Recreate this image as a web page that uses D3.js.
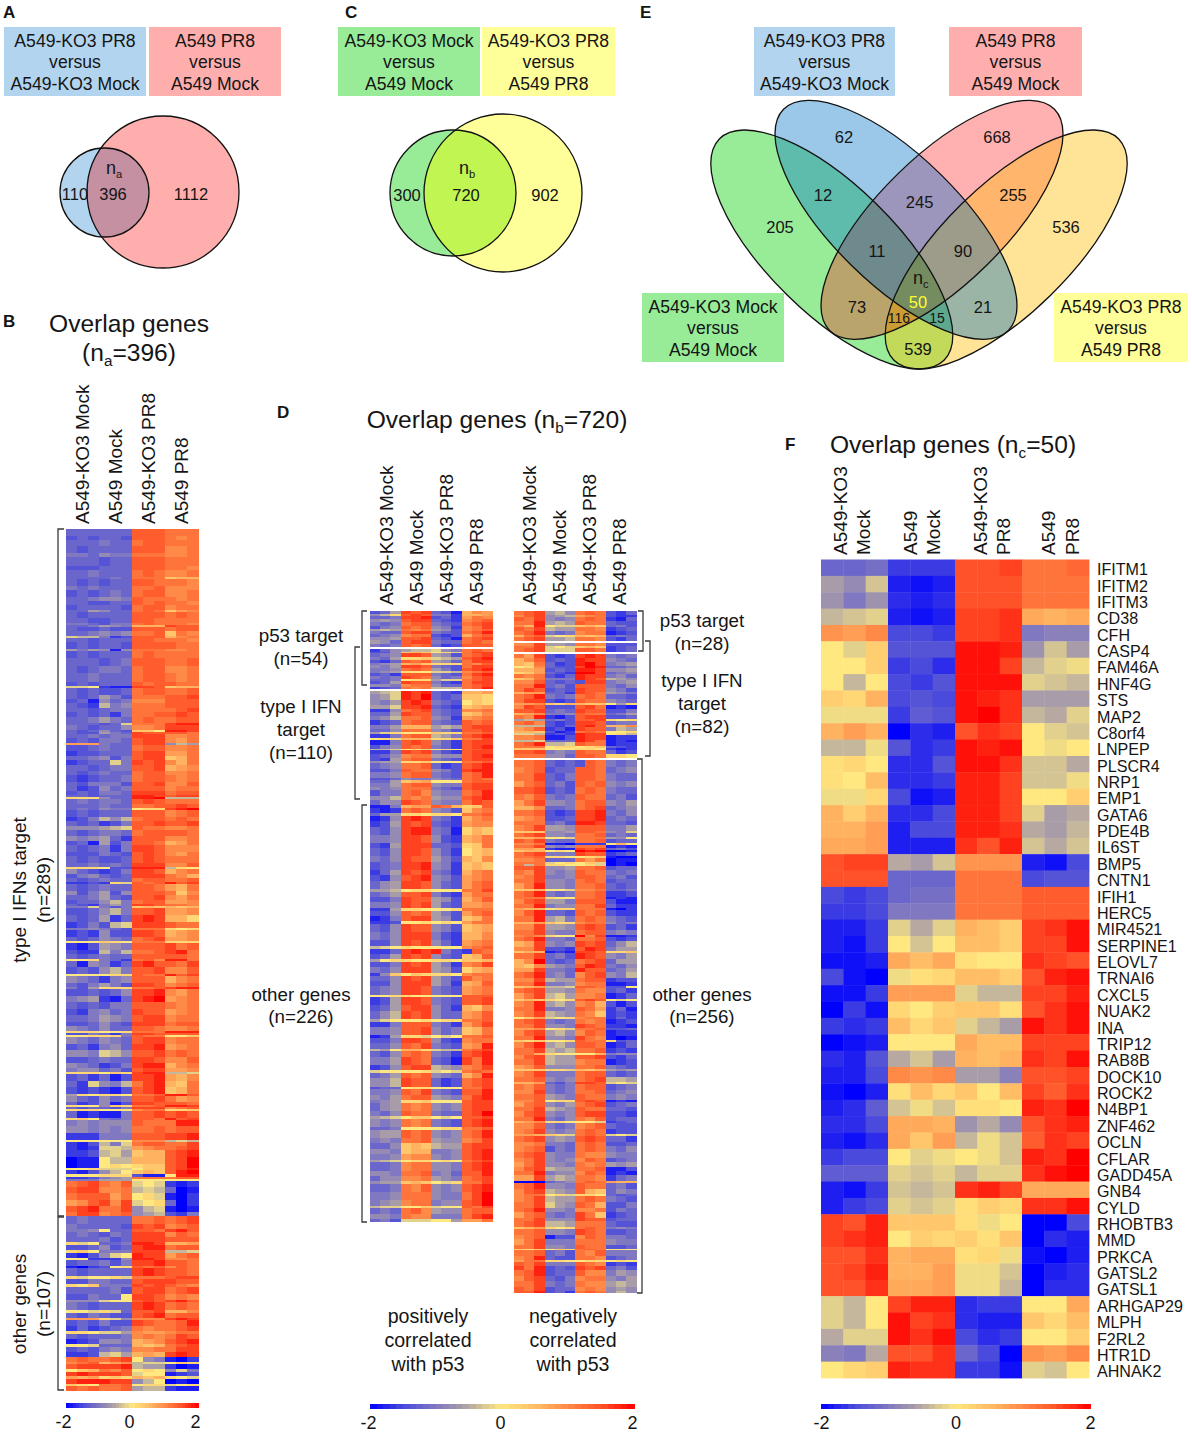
<!DOCTYPE html>
<html>
<head>
<meta charset="utf-8">
<script src="https://d3js.org/d3.v7.min.js"></script>
<style>
  body { margin: 0; background: #fff; }
  text { font-family: "Liberation Sans", Arial, sans-serif; fill: #151515; }
  .panel { font-weight: bold; font-size: 17px; }
</style>
</head>
<body>
<script>
/* VALUES */
var sampleNames = ["A549-KO3 Mock", "A549 Mock", "A549-KO3 PR8", "A549 PR8"];
var vennACounts = ["110", "396", "1112"];
var vennCCounts = ["300", "720", "902"];
var vennECounts = ["62", "668", "12", "245", "255", "205", "536", "11", "90", "50", "73", "21", "116", "15", "539"];
var legendTicks = [-2, 0, 2];

// panel F, log ratio x10, 12 values per row
var geneNames = ["IFITM1","IFITM2","IFITM3","CD38","CFH","CASP4","FAM46A","HNF4G","STS","MAP2","C8orf4","LNPEP","PLSCR4","NRP1","EMP1","GATA6","PDE4B","IL6ST","BMP5","CNTN1","IFIH1","HERC5","MIR4521","SERPINE1","ELOVL7","TRNAI6","CXCL5","NUAK2","INA","TRIP12","RAB8B","DOCK10","ROCK2","N4BP1","ZNF462","OCLN","CFLAR","GADD45A","GNB4","CYLD","RHOBTB3","MMD","PRKCA","GATSL2","GATSL1","ARHGAP29","MLPH","F2RL2","HTR1D","AHNAK2"];
var geneValues = [
[-12,-12,-11,-16,-16,-16,15,15,16,12,12,13],
[-6,-8,-3,-18,-19,-18,15,15,15,12,12,12],
[-7,-10,-7,-17,-18,-17,15,15,15,12,12,12],
[-4,-3,-2,-18,-19,-18,16,16,17,7,6,7],
[9,8,10,-15,-15,-16,16,16,17,-10,-9,-9],
[0,-2,3,-14,-14,-14,19,19,18,-7,-3,-6],
[0,0,3,-16,-15,-17,19,19,16,-4,-2,-1],
[0,-4,0,-15,-16,-14,19,19,19,-2,-3,-4],
[3,2,6,-15,-14,-15,19,18,17,-6,-6,-6],
[-1,-1,-1,-16,-13,-14,19,20,17,-4,-5,-2],
[6,8,6,-20,-17,-18,15,17,16,0,-2,-3],
[-4,-4,-1,-14,-17,-16,19,18,19,0,-1,0],
[1,2,0,-17,-17,-14,19,19,17,-3,-3,-5],
[1,0,5,-17,-17,-16,18,18,16,-3,-3,-1],
[-1,-1,2,-15,-19,-18,18,18,16,0,0,3],
[6,3,6,-17,-17,-15,18,18,16,-2,-6,-5],
[6,6,8,-18,-15,-15,18,18,17,-5,-6,-4],
[7,7,8,-18,-18,-18,17,15,18,-3,-5,-3],
[15,16,16,-5,-6,-3,9,9,9,-18,-19,-15],
[15,15,15,-12,-12,-12,12,12,12,-15,-14,-14],
[-15,-16,-15,-12,-11,-11,12,12,12,14,14,14],
[-16,-16,-15,-10,-10,-10,12,12,12,14,14,14],
[-18,-18,-16,-2,-5,-2,6,5,3,16,17,19],
[-18,-19,-16,0,-3,0,5,5,3,16,16,19],
[-19,-19,-18,7,5,7,1,0,0,17,16,15],
[-15,-19,-20,-1,1,2,5,5,3,15,18,19],
[-19,-19,-16,8,8,8,-2,-4,-4,16,16,18],
[-20,-16,-19,2,0,3,4,4,1,15,17,19],
[-16,-17,-16,5,2,4,-2,-4,-6,19,17,19],
[-20,-19,-18,0,0,0,7,5,5,16,16,16],
[-17,-18,-14,-5,-3,-6,6,5,6,17,16,19],
[-18,-18,-15,10,9,10,-6,-6,-9,15,15,16],
[-19,-20,-18,1,5,2,4,0,5,16,14,17],
[-18,-17,-13,-3,-1,-3,1,1,0,18,17,20],
[-17,-17,-15,7,7,6,-7,-5,-8,15,17,18],
[-18,-19,-17,7,4,8,-4,-1,-3,14,17,16],
[-16,-15,-15,0,-2,-1,0,-1,-3,18,17,20],
[-13,-13,-13,-2,-3,-2,-4,-2,-2,17,19,20],
[-18,-19,-16,-3,-4,-3,17,18,16,7,7,7],
[-18,-16,-15,-2,-3,-2,1,3,2,17,17,19],
[16,15,18,4,4,4,1,-1,0,-20,-20,-15],
[16,17,18,0,3,2,3,1,4,-20,-17,-18],
[15,15,17,6,7,7,1,2,-1,-19,-20,-18],
[15,16,18,6,6,8,-1,-1,-3,-20,-18,-17],
[15,15,17,7,7,8,-1,-1,-4,-20,-17,-17],
[-2,-4,0,16,18,18,-17,-16,-16,0,0,7],
[-2,-4,0,19,16,17,-17,-18,-18,4,2,5],
[-5,-2,-2,19,17,19,-15,-17,-16,0,0,3],
[-9,-10,-5,15,15,17,-12,-15,-20,9,8,10],
[0,2,3,18,17,17,-16,-16,-19,-2,-3,0]
];

// panels B and D: "genes levels", one letter per column, a=-2 k=0 u=2 (steps of 0.2)
var bTargetRows = [
"3 eeeeeerrrqqq","2 dedeedrrrqpq","3 eeefeeqrrqqq","3 edeeeerrrppq","2 ffegffqqqppq","4 eeedeerrrqqq",
"2 dddeeerrrqqp","3 eefeeeqrqppq","1 eeeefeqqqmnn","3 ededeerrqqqp","2 fefeeeqqrppp","3 dedefeqrrppq",
"2 eefggfrqqqpq","2 eeddeerqrqqp","2 deeeedqrrpqq","1 eehgeeqrqmop","3 edeeeerrrqrq","2 eeddeerrqqqq",
"1 ffedffqrqqqp","1 eefhgfnnnsrr","2 eddeddrrrqrr","2 eefgfgqqrmqp","1 jiifcdrrrnpq","2 eedeeerrqqqp",
"3 dedeedrrrrqq","1 hfhgbgqqqppq","3 dedeeeqrqqqq","4 eeedefrrrqqr","3 edeffeqrrppq","4 eefeeeqrrqpq",
"2 dedeeerqrrqq","1 jjkcbbssrmnn","3 ededdeqrrqqr","2 edehfdqqqrrs","2 debgefppprrr","2 edcifgqqqrrr",
"2 eedeffqqqqrs","2 dedecfqqrrsr","3 eefhfeqrqqrr","1 eeedejqqqstt","2 fedeegppqsss","1 edegedmmktts",
"1 eddhfesrrrrq","2 eefeffsssppq","2 dedffersspoq","1 ooofeerssgih","3 ddefeeqrrppq","2 cddeeerssooq",
"2 eefgdfrssmnq","2 cdeejfsrspnq","3 eedeffrrsnop","2 edefeeqrrppq","3 dcdeefqrrqpq","2 edfffdrrsppr",
"2 ecdgefrrrpqq","2 dedffesssqrr","1 eedeeettsrss","1 lllgeettuiii","2 efeffersrqqq","2 eeefeeqqrrsr",
"1 efegffkllstu","3 dedeeerrrpqr","2 cdfigiqrrqrq","2 edecdfrrsrrs","2 ggghijrqqppq","3 edeffeqrrrrq",
"2 gfghecrrrppq","2 debhdfrrqnoq","3 edefcfssrppp","2 dddfedrsrpoq","3 ededdersrqqq","2 eefefesssppr",
"1 lllkddtttilk","2 gedcdfssrnpq","2 dfgedesssqpn","2 edefeeqrrqqr","1 ccdcljrqrtrs","3 edefeerrqonq",
"2 gdfhdgrrrqmp","2 eefhedrrspoq","2 deegifqrroop","1 edcfhfssrqqp","1 ffjfdfmnmnmn","3 ddegifrrsoop",
"3 edehcestsnnl","3 cdfdijsssrqq","1 ffgfedqqqlkl","3 cdcgddssrnop","2 edegfeqrsoop","1 kkkmlkqqqlll",
"3 cbdhgfrrrsqr","2 dccifiqqrstq","2 edefeerrrrrq","1 kklfecqrpttq","3 ebgfcestrrqs","3 dedgifrrsppr",
"1 kkkkllrqqtrs","3 gfecfgrrrnpq","2 edfhfdssrpqr","1 fdhlllqqrstt","3 ddedegsstpoq","3 fghcbestuopq",
"3 ededffrrrqpq","3 dcfgefsrropq","3 eefhgfrsspqq","2 ddegedsssqrr","2 gfegeerrqppq","1 lllkklqqqttt",
"1 ddfecfssrrrr","1 kklllfrqqkkm","3 gfegfersspqq","3 decfgesstopq","3 ggfjigrrsqrq","3 ddefeessrppr",
"2 gfecdfsttnpq","2 fggefdrssoop","1 lllkmlsttiij","3 decebdsstonp","3 ecjgfiqstnmq","3 dcdcbdrstmnq",
"1 hlkllkqqrttr","3 gedgefrrsqop","1 ecdgbdssrrrq","1 lkkgmlqqrtts","1 edeedfssspqr","1 lllkkkpqqllm",
"3 ebcbbfrrsrsr","1 lmkfefrrqtrs","3 fgfgggrqqqtt","3 ggfgfgqqrqrr","3 cccfffrrrsst","1 kkkkkkpppiji",
"2 cbdifjqrrqqs","2 cbcjjiopqqrs","3 ccdijhmnnrst","3 abbkiinnnrsu","2 abbklklmmrsu","1 kkljjjkmmrst",
"2 cbdgikmnmrtu","1 kkkllldbbktt","1 ccdfghqqqqrr","1 fffhhhkkkkkk"
];
var bInverseRows = [
"3 qrsqprjkjcbc","3 rssppqijieab","3 qrrroqkljbac","3 oprspsjkleac","3 rstqqsgijbab","2 qsspqrghidcf"
];
var bOtherRows = [
"3 efeeeeqqrqrs","2 feeeedsrspqr","1 ffgkeerrqstr","2 efedfesssprq","2 eeefdesssrrr","1 ljkeefttsnno",
"2 ddegdesttqrr","1 lmkfffsssiij","2 cbdgjktssoqr","1 kkcccgttsppq","2 deefdfsstrrq","1 bacdklrqrprq",
"3 edeeeestsrrq","1 ljkkljqqqrss","2 ddffeersssrr","1 lkmfffsrsrqp","3 eeeefdrssqrs","2 ddfeekssrpqp",
"1 gggjkkrsrstr","3 fedeeestsqrq","1 kkjljerrsnnp","2 edfeddrstqrr","1 oooljgpppsts","2 dedfddsrqqrt",
"2 cecdefqpqqrs","1 llkjjhpoopqq","2 edeeefpqpqsr","2 bcdggfnoprst","1 kkjeeenmnqrs","2 dedfgfppqqss",
"2 ccdijhnonsts"
];
var bEndRows = [
"2 qrqqrskgfbac","1 pqrnopijjkml","2 rsssstihhcab","1 kmnqprklkgjf","2 stsssrjkkbcd","1 onolmlnmnlkj",
"2 stttssgikaba","1 mlkqqrklljkl","2 rqrqqrhiicbb"
];

var dLeftP53Rows = [
"2 dehsrsedbnpo","1 gilrsrffcnno","2 eefsstdecoqp","2 ghgrssedcpqr","2 fefqrrfedqrs","2 dfgrqrgfcpqs",
"1 hihqpqhgdpqr","2 feerssfedqrt","2 efgpqqdcdnqr","2 gghrrsedbqrs","2 hgerssfeeqrq","2 fefrqrecdrrr"
];
var dLeftBothRows = [
"2 ceghiijgfqrq","1 ddgmnmkljqss","2 efgssrhgdqrs","2 fehllmjihrst","2 dcerqrhgeqss","1 fghnomlllqpr",
"2 gfhssrfedqss","2 ffgqrqhfdrst","1 fghlkkjjipqr","2 decrrrfedqst","2 fefsrqgefprs","1 eefkllhjjqrs",
"2 dehsrrfdcqss","2 ggfpqqgeeqrs","1 cdeqpqiiiqrt"
];
var dLeftIfnRows = [
"2 hijtstedcnno","3 ghjtsuedemml","3 gfhstsfedkml","2 hhjsstedcmno","2 ccgqrsfedppq","2 eehsrrfedmnp",
"2 fgiqqrgfcopq","3 cdeqrrfedrqr","2 ffhnnnhihrss","2 eegqqqgfdrrs","1 hjlkkkmllqqr","2 ccfqrrihfrst",
"1 kllnnnllmqqs","3 bbfrsrgecrss","2 dfgrqrfecrst","1 iijkljklkrrs","2 ccfsrsfdcrss","2 degpqqhggrst",
"2 dchqrrfedrss","1 ghhllmkkkqqr","3 efgqqrecdrst","2 ddfrqqgfdstt","3 ffgqrrfedqrt","1 ddegffgfeqrq",
"2 eehmnokkkqrr","2 ffhqrrgffrss","2 gfgqqqfedrss","3 dffqrpgffqrt","2 ggiqpqhggrst","3 eggsrqgffqsr"
];
var dLeftOtherRows = [
"1 bbfnoorqnlmr","2 cbcqrqgfdmpq","1 ehhllkllkqqr","2 bcgstsfecnpq","2 cdhsrsedcopp","3 edgsttfeblnm",
"3 ffgssrgdcnoq","2 dchssseedlmq","3 edgssrgeckmn","2 fegsrrhfdnmp","3 defsstgfcmnm","2 cehsrsfecnpq",
"2 dcgrstgfdopq","3 eghssrgedoqr","1 hhikllkkkqqs","2 efhrrsfdcoqq","2 ddfsrrhgdnpr","2 ffgsrshedoop",
"1 cchllkkklqqq","2 ddgrqrhfdoqr","2 bcfrsshgdmnq","1 ccdkklklkoqq","3 edgsrrgfdmno","3 fegsssfdcnnp",
"2 ddgsrsgecopq","1 ijklkkkkkpqr","2 cceststfdcrq","2 dehsrsgedmnr","1 hkllkkllkmmn","2 ddfsrshfcpqs",
"2 fegssshgdlno","1 cgmkmlllkpqq","2 eegsrshfdrpq","2 ddgssshfcnor","3 efgssrfedopq",
"1 kkllkkkkkrrr","3 cdhssrfedrrs","2 dehrssgecnmp","3 egisrsgeeopr","1 hjkkklkllqqr","2 ccfrrrfecoqs",
"3 ffgrrsgefmnq","1 bchlljkjkqqr","2 ddfssrgdcpqq","2 eegrqsfedopt","1 ihknnljiiqrs","2 edgqrqfecrst",
"3 ffhsrqedbsqt","2 cdgrssihgpqs","1 jkkkkljkjqrq","2 efhrqrgfenpt","3 ggisrrecdqrs","1 deekllkkkqqs",
"2 ffgrqsfedrrt","2 gfhqrrhgfqst","1 fghllmkkkrss","3 eghqpqgfgrss","2 fegrqqfeersu",
"1 hijkmmkjkrrs","3 gfgqpqfedrst","1 eefkkkkllqqr","3 ghhrqrgfgqrt","2 fgfqqrhggpqs",
"2 eegmnmihhrss","2 ggfmnnffgrst","2 ffgoppgfgrst","1 hijkllklkqrs","3 eefpqqggfrst","2 ggfqqrfgerrt",
"2 eggppqhgfqrs","1 ghhmnmkjlqqs","3 eefqprgfgrst","3 ffgqqqgffqsu","2 fghpqqfggrsu","1 ijjkkmjkkrqs",
"2 efeqrphggqrr","2 ggfqppfffqst","1 efdjjjkkhooq"
];

var dRightP53Rows = [
"2 qrshigqrqdce","1 prsghiopqdcc","2 rqsgfgqrqcbe","2 qqthihrqqedd","1 pntkjjmnmefd","2 rqsihhqqpcde",
"2 qrtfefpqqbcd","1 nqrjklnmnefe","2 qrshhiqqpdce"
];
var dRightBothRows = ["2 ppshhgqqpddd","1 qqsjkjmnmcde","2 qrsjjjrrqcde"];
var dRightIfnRows = [
"2 qosdcdstsfef","2 nprdedtssgfe","2 nmqecdtusfgh","1 klpeddsuteef","2 nnodedttsggh","1 lmoedcuusefg",
"2 qpqdcetssfge","1 mnqffftsrihg","2 pprededssfgh","2 qqtefdrrrfeg","2 qsrdedsrrgfd","1 nooeecsrqhgf",
"2 qrtfefqrqeed","2 qssdcdrqqgfe","1 oopmlnnmmkhl","2 psrdddrsqbcb","2 rrsefesrrddf","1 nopffgrqqefh",
"2 qptcbdrssdde","1 hihefdrrslkl","2 qrpdcdssreff","1 iiidcestrnnp","2 oprcdbsrrfih","1 nnmdbcqrqkkl",
"1 jjicdctsskli","2 ppqbbdtssbcc","1 iijeeetsqbcb","2 qrtiijrqqbcc","1 qqqkllklmedc","1 mmmkkkllkcbc",
"2 rrsfgfrqqecd","2 qqqggerrqllk"
];
var dRightOtherRows = [
"4 qqrededrqfef","3 pqrdeerrqefg","4 qqsedfrrqfee","3 oqrefdrqrgfg","4 rrsdedqrqfee","3 qprfefrqqefd",
"3 oqsggfqrrgfh","2 nnpeefqrsefg","3 qqrdcdsstfeg","3 opqddesstefe","2 qqqefdttseed","3 pqshhgrrrffh",
"1 mmmgghrrqgfj","2 qrsggfqqrefe","1 nnokkjqqqhgk","2 rqsfeeqqrdee","1 ppqbbacccknk","2 qqsgfgqqqbcb",
"1 ooncbbsrsefd","1 mnnklkutuaab","2 qrsfffsrrcde","1 qqrllkklmbaa","2 ppqeeeqoqabb","1 qqqjklkmjaba",
"1 qiqllkkljaba","2 rrsgghqqrdee","3 qpsgfgrqqfef","2 pqsffgrrqefd","2 qqsggfqrqdee","3 oqtggfqqrede",
"1 mmnkkjppqeef","3 qrtfefqqrccd","1 qqqlkkqqrbcb","3 prshhfrrrdbb","2 qqtfggqqsecc","1 onnkllqqqbac",
"3 prteedrqrdcc","3 qqthifqrqfed","1 nnomllpqqgef","3 ppshhgrsrdec","3 qqsgffqrrfgf","1 pqplkkupsbbc",
"2 qrtffeqqrdcd","3 nosgfgsrsegi","2 ppsddcrtsfhh","1 mnnbcbssrllm","3 qqsefdtsrgfh","3 npuedeqrsehh",
"2 nmphgfrtsfeg","2 oosffetrrefh","3 qrtfgeprsgfi","2 ppsihhqrrcdd","2 qqtffgpqqbbc",
"1 mnoiijrrqddk","3 qrshhgqppdec","3 oqsijhppqbce","1 mnmlklrsrkjk","3 pqthigpqndbd",
"2 qqtffgrqoceb","3 pqsihgqpmcdc","1 kmojklpqqcec","3 qrsfefqpqbcd","2 qqsggfsrqccb",
"1 oopkljqqrdde","3 prshigprqbcc","2 qqtggfsqpbab","1 mlmkklrqqlde","3 prthigrrqbce",
"3 qqsihiqqrcdc","1 qqnlkkkknfgg","2 prsihhrrsdce","3 qqsihhpqqbcd","2 oprgggqqrfed",
"1 mmmlljnmnhgh","3 pqsfffqrrede","3 qqrgfgqrsiih","1 nnoedfssrjkj","3 qprfefqrrdef",
"2 ppsfefqqrefg","3 qqrhgfrqqfgf","1 pprkllrsrbcb","3 oqrgfhqrsdef","2 qqsihgrqqeed",
"3 prsgfgrssddc","2 qqtfegqprdee","1 nopllkkkjcde","3 pprfefpqredd","3 pqsgfgqrqcdd",
"1 oonmljqrqjkj","3 qrsghgrsreec","2 ppqffeqrqdde",
"3 pqrdfeqrqfeg","3 qrsgffqppgff","2 pqsgfgprqdef","3 oqsggfqpqhgh","2 prsihhqqrbbd",
"2 qqtfggprqbcb","3 ooshihqqpcef","1 aaaefgqrqonn","3 qrtggfrqqefd","3 prsihgrnmegf",
"1 pqqkljllkede","3 pqsihhqrqfed","3 qqsjhgrqnddf","2 qrtggfppqdfe","3 oqrfefsqmcde",
"2 qqsgggsrrdee","3 qrsiihqqqedd","1 mnolklqrqfgf","3 qqrggfsrqdde","2 pqrbddprqffe",
"3 oqsfffqqqgff","2 qqsggfrqqdde","1 mlmkmlqrqkkk","3 qqrefdqprfff","2 pqteddqqpdef",
"1 oqqllkkllklk","2 rqsfffrqpcdc","2 sqtdedsrsefd","3 qrtdeerppfhg","3 prsedfpqqgfh",
"3 qqsfefqpphih","2 rqsdeepqpghg","1 rrtdecqrqgig"
];

/* HELPERS */
var width = 1192;
var height = 1436;

var svg = d3.select("body").append("svg")
  .attr("width", width)
  .attr("height", height);

var colorScale = d3.scaleLinear()
  .domain([-2, -1.5, -1, -0.6, -0.3, 0, 0.5, 1, 1.5, 2])
  .range(["#0000ff", "#4a4adc", "#8078c0", "#a89ca8", "#d4c494", "#ffe87f", "#ffbd66", "#ff8a48", "#ff5228", "#ff0000"])
  .clamp(true);

function addText(x, y, str, size, anchor) {
  return svg.append("text")
    .attr("x", x)
    .attr("y", y)
    .attr("font-size", size || 16.5)
    .attr("text-anchor", anchor || "middle")
    .text(str);
}

// text with a subscript letter in the middle
function addSubText(x, y, before, sub, after, size) {
  let t = svg.append("text")
    .attr("x", x)
    .attr("y", y)
    .attr("font-size", size)
    .attr("text-anchor", "middle");
  t.append("tspan").text(before);
  t.append("tspan").attr("dy", size * 0.22).attr("font-size", size * 0.62).text(sub);
  t.append("tspan").attr("dy", -size * 0.22).text(after);
  return t;
}

function addVertical(x, yBottom, str, size, anchor) {
  return svg.append("text")
    .attr("transform", `translate(${x},${yBottom}) rotate(-90)`)
    .attr("font-size", size || 19)
    .attr("text-anchor", anchor || "start")
    .text(str);
}

function addBox(x, y, w, h, fill, lines) {
  svg.append("rect")
    .attr("x", x).attr("y", y)
    .attr("width", w).attr("height", h)
    .attr("fill", fill);
  lines.forEach((l, i) => addText(x + w / 2, y + 20 + i * 21.3, l, 17.6));
}

function addBracket(x, y0, y1, tick) {
  svg.append("path")
    .attr("d", `M${x + tick},${y0}H${x}V${y1}H${x + tick}`)
    .attr("fill", "none")
    .attr("stroke", "#3a3a3a")
    .attr("stroke-width", 1.3);
}

function ellipseAttrs(sel, e) {
  return sel
    .attr("cx", e.cx).attr("cy", e.cy)
    .attr("rx", e.rx).attr("ry", e.ry)
    .attr("transform", e.rot ? `rotate(${e.rot} ${e.cx} ${e.cy})` : null);
}

// regions are painted from single sets to full intersections, each clipped by its other sets
function drawVenn(id, ells, regions) {
  let defs = svg.append("defs");
  ells.forEach((e, i) => {
    ellipseAttrs(defs.append("clipPath").attr("id", id + i).append("ellipse"), e);
  });
  regions.forEach((r) => {
    let g = svg;
    r.sets.slice(1).forEach((s) => {
      g = g.append("g").attr("clip-path", `url(#${id}${s})`);
    });
    ellipseAttrs(g.append("ellipse"), ells[r.sets[0]]).attr("fill", r.color);
  });
  ells.forEach((e) => {
    ellipseAttrs(svg.append("ellipse"), e)
      .attr("fill", "none")
      .attr("stroke", "#111")
      .attr("stroke-width", 1.3);
  });
}

function parseRows(rows) {
  let at = 0;
  return rows.map((r) => {
    let parts = r.split(" ");
    let n = +parts[0];
    let row = {
      start: at,
      n: n,
      cells: Array.from(parts[1]).map((c) => (c.charCodeAt(0) - 97) * 0.2 - 2)
    };
    at += n;
    return row;
  });
}

function drawStrips(rows, x0, x1, y0, y1) {
  let bands = parseRows(rows);
  let last = bands[bands.length - 1];
  let yScale = d3.scaleLinear().domain([0, last.start + last.n]).range([y0, y1]);
  let xScale = d3.scaleBand().domain(d3.range(12)).range([x0, x1]);
  let g = svg.append("g").attr("shape-rendering", "crispEdges").style("filter", "blur(0.45px)");
  bands.forEach((b) => {
    g.append("g").selectAll("rect")
      .data(b.cells.map((v, i) => ({ v: v, i: i })))
      .enter().append("rect")
      .attr("x", (d) => xScale(d.i))
      .attr("width", xScale.bandwidth() + 0.5)
      .attr("y", yScale(b.start))
      .attr("height", yScale(b.start + b.n) - yScale(b.start) + (b === last ? 0 : 0.5))
      .attr("fill", (d) => colorScale(d.v));
  });
}

function drawColorBar(x0, x1, y, shift, labelSize) {
  let barScale = d3.scaleLinear().domain([-2, 2]).range([x0, x1]);
  let steps = d3.range(-2, 2, 0.1);
  svg.append("g").attr("shape-rendering", "crispEdges").selectAll("rect")
    .data(steps)
    .enter().append("rect")
    .attr("x", (d) => barScale(d))
    .attr("y", y)
    .attr("width", barScale(0.1) - barScale(0) + 0.5)
    .attr("height", 5)
    .attr("fill", (d) => colorScale(d + 0.05));
  let axis = svg.append("g")
    .attr("transform", `translate(${shift},${y + 5})`)
    .call(d3.axisBottom(barScale).tickValues(legendTicks).tickSize(0).tickPadding(7).tickFormat(d3.format("d")));
  axis.select(".domain").remove();
  axis.selectAll("text")
    .attr("font-size", labelSize)
    .attr("font-family", "Liberation Sans")
    .attr("fill", "#151515")
    .text((d) => d);
}

/* PANEL LETTERS */
[["A", 3, 18], ["C", 345, 18], ["E", 640, 18], ["B", 3, 327], ["D", 277, 418], ["F", 785, 450]].forEach((p) => {
  addText(p[1], p[2], p[0], 17, "start").attr("class", "panel");
});

/* A */
addBox(4, 27, 142, 69, "#b2d4ee", ["A549-KO3 PR8", "versus", "A549-KO3 Mock"]);
addBox(149, 27, 132, 69, "#ffaeae", ["A549 PR8", "versus", "A549 Mock"]);
drawVenn("va", [
  { cx: 104.5, cy: 192.5, rx: 44.5, ry: 44.5 },
  { cx: 163, cy: 192, rx: 76, ry: 76 }
], [
  { sets: [0], color: "#b2d4ee" },
  { sets: [1], color: "#ffaeae" },
  { sets: [0, 1], color: "#c590a2" }
]);
addText(75, 200, vennACounts[0], 16.5);
addText(113, 200, vennACounts[1], 16.5);
addText(191, 200, vennACounts[2], 16.5);
addSubText(114, 174, "n", "a", "", 18);

/* C */
addBox(338, 27, 142, 69, "#98ec98", ["A549-KO3 Mock", "versus", "A549 Mock"]);
addBox(482, 27, 133, 69, "#ffff99", ["A549-KO3 PR8", "versus", "A549 PR8"]);
drawVenn("vc", [
  { cx: 453, cy: 193, rx: 63, ry: 63 },
  { cx: 503, cy: 193, rx: 79, ry: 79 }
], [
  { sets: [0], color: "#98ec98" },
  { sets: [1], color: "#ffff99" },
  { sets: [0, 1], color: "#c0f552" }
]);
addText(407, 201, vennCCounts[0], 16.5);
addText(466, 201, vennCCounts[1], 16.5);
addText(545, 201, vennCCounts[2], 16.5);
addSubText(467, 174, "n", "b", "", 18);

/* E */
addBox(754, 27, 141, 69, "#b2d4ee", ["A549-KO3 PR8", "versus", "A549-KO3 Mock"]);
addBox(949, 27, 133, 69, "#ffaeae", ["A549 PR8", "versus", "A549 Mock"]);
addBox(642, 293, 142, 69, "#98ec98", ["A549-KO3 Mock", "versus", "A549 Mock"]);
addBox(1054, 293, 134, 69, "#ffff99", ["A549-KO3 PR8", "versus", "A549 PR8"]);
drawVenn("ve", [
  { cx: 831.8, cy: 249.5, rx: 157.7, ry: 63.7, rot: 44.5 },
  { cx: 896, cy: 219.8, rx: 157.7, ry: 63.7, rot: 44.5 },
  { cx: 942, cy: 219.8, rx: 157.7, ry: 63.7, rot: -44.5 },
  { cx: 1006.2, cy: 249.5, rx: 157.7, ry: 63.7, rot: -44.5 }
], [
  { sets: [0], color: "#98ec98" },
  { sets: [1], color: "#9bc8e8" },
  { sets: [2], color: "#ffb0b0" },
  { sets: [3], color: "#ffe498" },
  { sets: [0, 1], color: "#5dbcac" },
  { sets: [1, 2], color: "#9c96bc" },
  { sets: [2, 3], color: "#ffb56c" },
  { sets: [0, 2], color: "#b9a46c" },
  { sets: [1, 3], color: "#9ab5a5" },
  { sets: [0, 3], color: "#c3d95a" },
  { sets: [0, 1, 2], color: "#6f8a8c" },
  { sets: [1, 2, 3], color: "#9d9c8a" },
  { sets: [0, 2, 3], color: "#cc9c35" },
  { sets: [0, 1, 3], color: "#5ea88e" },
  { sets: [0, 1, 2, 3], color: "#748c60" }
]);
var vennESpots = [[844, 143], [997, 143], [823, 201], [919.6, 208], [1013, 201], [780, 233], [1066, 233], [877, 257], [963, 257], [918, 308], [857, 313], [983, 313], [899, 323], [937, 323], [918, 355]];
vennECounts.forEach((c, i) => {
  let t = addText(vennESpots[i][0], vennESpots[i][1], c, c === "116" || c === "15" ? 14 : 16.5);
  if (c === "50") t.style("fill", "#ffff30");
});
addSubText(920.7, 284, "n", "c", "", 18);

/* B */
addText(129, 332, "Overlap genes", 24.6);
addSubText(129, 361, "(n", "a", "=396)", 24.6);
sampleNames.forEach((s, i) => addVertical(89 + i * 33, 524, s));
drawStrips(bTargetRows, 66, 198, 529, 1181);
drawStrips(bInverseRows, 66, 198, 1181, 1216);
drawStrips(bOtherRows, 66, 198, 1216, 1357);
drawStrips(bEndRows, 66, 198, 1357, 1391);
addBracket(58, 529, 1216, 6);
addBracket(58, 1217, 1390, 6);
addVertical(26, 890, "type I IFNs target", 19, "middle");
addVertical(50, 890, "(n=289)", 19, "middle");
addVertical(26, 1304, "other genes", 19, "middle");
addVertical(50, 1304, "(n=107)", 19, "middle");
drawColorBar(66, 198, 1403, -3, 18);

/* D */
addSubText(497, 428, "Overlap genes (n", "b", "=720)", 24.6);
sampleNames.forEach((s, i) => addVertical(393 + i * 30, 605, s));
sampleNames.forEach((s, i) => addVertical(536 + i * 30, 605, s));
drawStrips(dLeftP53Rows, 370, 492, 611, 647);
drawStrips(dLeftBothRows, 370, 492, 648.5, 689);
drawStrips(dLeftIfnRows, 370, 492, 690.5, 805);
drawStrips(dLeftOtherRows, 370, 492, 805, 1222);
drawStrips(dRightP53Rows, 514, 636, 611, 641);
drawStrips(dRightBothRows, 514, 636, 642.5, 652);
drawStrips(dRightIfnRows, 514, 636, 653.5, 758);
drawStrips(dRightOtherRows, 514, 636, 759.5, 1293);
addBracket(362, 611, 685, 5);
addBracket(355, 647, 799, 5);
addBracket(362, 805, 1222, 5);
addBracket(643, 611, 651, -5);
addBracket(650, 641, 756, -5);
addBracket(642, 759, 1293, -5);
[["p53 target", 301, 642], ["(n=54)", 301, 665], ["type I IFN", 301, 713], ["target", 301, 736], ["(n=110)", 301, 759], ["other genes", 301, 1001], ["(n=226)", 301, 1023],
 ["p53 target", 702, 627], ["(n=28)", 702, 650], ["type I IFN", 702, 687], ["target", 702, 710], ["(n=82)", 702, 733], ["other genes", 702, 1001], ["(n=256)", 702, 1023]].forEach((t) => addText(t[1], t[2], t[0], 18.8));
[["positively", 428, 1323], ["correlated", 428, 1347], ["with p53", 428, 1371],
 ["negatively", 573, 1323], ["correlated", 573, 1347], ["with p53", 573, 1371]].forEach((t) => addText(t[1], t[2], t[0], 19.6));
drawColorBar(370, 634, 1404, -2, 18);

/* F */
addSubText(953, 453, "Overlap genes (n", "c", "=50)", 24.6);
[["A549-KO3", 847], ["Mock", 870], ["A549", 917], ["Mock", 940], ["A549-KO3", 987], ["PR8", 1010], ["A549", 1055], ["PR8", 1079]].forEach((t) => addVertical(t[1], 555, t[0]));

var fx = d3.scaleBand().domain(d3.range(12)).range([821, 1089]);
var fy = d3.scaleBand().domain(geneNames).range([559.5, 1378]);
svg.append("g").style("filter", "blur(0.3px)").selectAll("g")
  .data(geneValues)
  .enter().append("g")
  .selectAll("rect")
  .data((row, r) => row.map((v, i) => ({ v: v / 10, i: i, r: r })))
  .enter().append("rect")
  .attr("x", (d) => fx(d.i))
  .attr("y", (d) => fy(geneNames[d.r]))
  .attr("width", fx.bandwidth() + 0.4)
  .attr("height", fy.bandwidth() + 0.4)
  .attr("fill", (d) => colorScale(d.v));
geneNames.forEach((g) => addText(1097, fy(g) + fy.bandwidth() / 2 + 7.5, g, 16.1, "start"));
drawColorBar(821, 1090, 1404, 0, 18);
</script>
</body>
</html>
